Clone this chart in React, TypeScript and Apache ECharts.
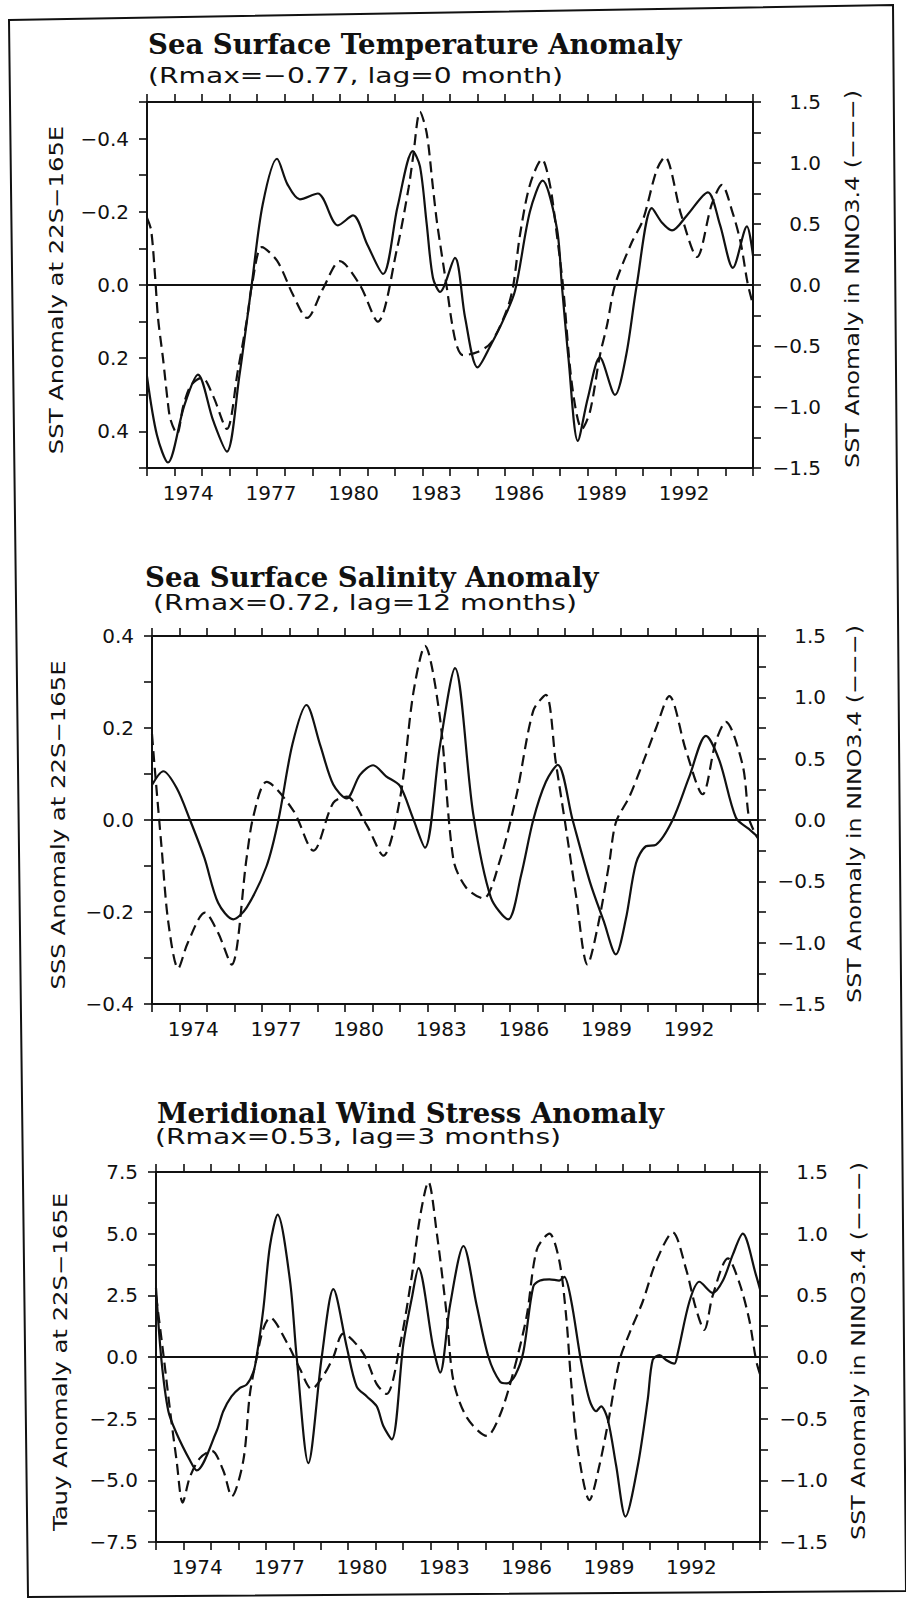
import React, { useEffect, useRef } from "react";
import * as echarts from "echarts";

// ---------- categories / tick labels ----------
const YEAR_CATS = [
  "1973", "1974", "1975", "1976", "1977", "1978", "1979", "1980", "1981", "1982", "1983",
  "1984", "1985", "1986", "1987", "1988", "1989", "1990", "1991", "1992", "1993", "1994",
];
const LABEL_YEARS = ["1974", "1977", "1980", "1983", "1986", "1989", "1992"];

// ---------- text ----------
const TITLES = [
  "Sea Surface Temperature Anomaly",
  "Sea Surface Salinity Anomaly",
  "Meridional Wind Stress Anomaly",
];
const SUBTITLES = [
  "(Rmax=\u22120.77, lag=0 month)",
  "(Rmax=0.72, lag=12 months)",
  "(Rmax=0.53, lag=3 months)",
];
const LEFT_NAMES = [
  "SST Anomaly at 22S\u2212165E",
  "SSS Anomaly at 22S\u2212165E",
  "Tauy Anomaly at 22S\u2212165E",
];
const RIGHT_NAME = "SST Anomaly in NINO3.4 (\u2212\u2212\u2212)";

// ---------- axis ranges ----------
const LEFT_MIN = [-0.5, -0.4, -7.5];
const LEFT_MAX = [0.5, 0.4, 7.5];
const LEFT_STEP = [0.1, 0.1, 1.25];
const LEFT_LABEL_STEP = [0.2, 0.2, 2.5];
const LEFT_INVERSE = [true, false, false];
const RIGHT_MIN = -1.5;
const RIGHT_MAX = 1.5;
const RIGHT_STEP = 0.25;
const RIGHT_LABEL_STEP = 0.5;

// ---------- Panel 1: SST anomaly at 22S-165E (solid) ----------
const sstYears = [1973.0, 1973.36, 1973.76, 1974.35, 1974.85, 1975.4, 1975.9, 1976.35, 1976.8, 1977.2, 1977.72, 1978.1, 1978.55, 1979.2, 1979.93, 1980.48, 1981.0, 1981.57, 1982.1, 1982.65, 1982.91, 1983.15, 1983.38, 1983.64, 1984.18, 1984.55, 1985.0, 1985.5, 1985.92, 1986.36, 1986.9, 1987.36, 1987.88, 1988.06, 1988.3, 1988.64, 1989.0, 1989.44, 1989.99, 1990.4, 1990.78, 1991.33, 1991.7, 1992.06, 1992.6, 1993.36, 1993.8, 1994.27, 1994.78, 1995.0];
const sstValues = [0.25, 0.41, 0.485, 0.33, 0.245, 0.37, 0.455, 0.25, 0.0, -0.22, -0.345, -0.275, -0.234, -0.25, -0.163, -0.19, -0.11, -0.03, -0.215, -0.366, -0.324, -0.17, -0.02, 0.019, -0.074, 0.09, 0.225, 0.161, 0.098, 0.016, -0.2, -0.285, -0.155, 0.0, 0.2, 0.426, 0.31, 0.198, 0.3, 0.19, 0.0, -0.21, -0.17, -0.149, -0.19, -0.253, -0.165, -0.047, -0.16, -0.08];

// ---------- Panel 1: NINO3.4 (dashed, lag 0) ----------
const nino1Years = [1973.0, 1973.15, 1973.3, 1973.4, 1973.58, 1973.75, 1973.85, 1974.09, 1974.32, 1974.6, 1975.0, 1975.4, 1975.9, 1976.3, 1976.63, 1976.81, 1977.17, 1977.72, 1978.3, 1978.81, 1979.39, 1980.0, 1980.73, 1981.38, 1982.07, 1982.5, 1982.66, 1982.91, 1983.15, 1983.38, 1983.53, 1983.89, 1984.07, 1984.25, 1984.47, 1985.0, 1985.5, 1986.07, 1986.3, 1986.54, 1986.9, 1987.34, 1987.63, 1987.88, 1988.1, 1988.43, 1988.79, 1989.08, 1989.44, 1989.7, 1989.99, 1990.6, 1991.0, 1991.5, 1991.8, 1992.4, 1992.97, 1993.5, 1993.87, 1994.25, 1994.55, 1994.8, 1995.0];
const nino1Values = [0.55, 0.45, 0.05, -0.27, -0.6, -0.95, -1.1, -1.22, -0.99, -0.82, -0.76, -0.91, -1.18, -0.7, -0.28, 0.0, 0.31, 0.2, -0.08, -0.27, -0.03, 0.195, 0.0, -0.3, 0.29, 0.8, 1.05, 1.42, 1.25, 0.8, 0.51, -0.03, -0.31, -0.5, -0.575, -0.55, -0.47, -0.2, 0.0, 0.41, 0.82, 1.03, 0.82, 0.41, 0.0, -0.82, -1.18, -1.04, -0.58, -0.33, 0.0, 0.35, 0.53, 0.94, 1.05, 0.57, 0.23, 0.66, 0.82, 0.6, 0.35, 0.02, -0.16];

// ---------- Panel 2: SSS anomaly at 22S-165E (solid) ----------
const sssYears = [1973.0, 1973.41, 1973.9, 1974.38, 1974.9, 1975.4, 1975.95, 1976.44, 1977.16, 1977.59, 1978.1, 1978.61, 1979.1, 1979.58, 1980.07, 1980.55, 1981.03, 1981.5, 1982.0, 1982.45, 1982.91, 1983.45, 1984.0, 1984.66, 1985.3, 1985.93, 1986.4, 1986.84, 1987.3, 1987.73, 1988.27, 1988.9, 1989.4, 1989.84, 1990.2, 1990.57, 1990.93, 1991.29, 1991.9, 1992.5, 1993.11, 1993.6, 1994.2, 1994.68, 1995.0];
const sssValues = [0.076, 0.106, 0.069, 0.0, -0.082, -0.18, -0.216, -0.19, -0.1, 0.0, 0.165, 0.25, 0.164, 0.077, 0.047, 0.098, 0.119, 0.095, 0.074, 0.008, -0.06, 0.16, 0.33, 0.014, -0.168, -0.216, -0.12, 0.0, 0.083, 0.12, 0.0, -0.135, -0.22, -0.292, -0.216, -0.094, -0.057, -0.054, 0.0, 0.093, 0.183, 0.129, 0.005, -0.02, -0.037];

// ---------- Panel 2: NINO3.4 (dashed, lag 12 months) ----------
const nino2Years = [1973.0, 1973.08, 1973.35, 1973.59, 1973.95, 1974.3, 1974.92, 1975.4, 1975.89, 1976.44, 1976.68, 1977.16, 1978.13, 1978.86, 1979.58, 1980.07, 1980.79, 1981.4, 1982.0, 1982.49, 1982.91, 1983.45, 1983.94, 1984.4, 1985.03, 1985.63, 1986.24, 1986.84, 1987.3, 1987.66, 1988.03, 1988.39, 1988.81, 1989.2, 1989.6, 1989.84, 1990.33, 1990.81, 1991.3, 1991.78, 1992.38, 1992.99, 1993.47, 1993.83, 1994.44, 1994.68, 1994.92, 1995.0];
const nino2Values = [0.7, 0.475, -0.23, -0.83, -1.21, -1.0, -0.755, -0.92, -1.18, -0.3, 0.03, 0.31, 0.077, -0.25, 0.14, 0.19, -0.04, -0.29, 0.17, 1.04, 1.42, 0.84, -0.32, -0.55, -0.64, -0.33, 0.21, 0.89, 1.02, 0.47, -0.07, -0.61, -1.18, -0.85, -0.35, -0.02, 0.19, 0.46, 0.75, 1.01, 0.57, 0.21, 0.64, 0.8, 0.45, 0.01, -0.12, -0.15];

// ---------- Panel 3: Tauy anomaly at 22S-165E (solid) ----------
const tauyYears = [1973.0, 1973.2, 1973.45, 1973.75, 1974.24, 1974.48, 1975.21, 1975.45, 1975.75, 1976.06, 1976.3, 1976.55, 1976.67, 1976.91, 1977.15, 1977.43, 1977.88, 1978.12, 1978.55, 1979.04, 1979.46, 1979.95, 1980.31, 1980.68, 1981.04, 1981.28, 1981.59, 1982.01, 1982.32, 1982.56, 1983.1, 1983.35, 1983.71, 1984.2, 1984.68, 1985.11, 1985.53, 1985.78, 1986.08, 1986.38, 1986.74, 1986.99, 1987.33, 1987.69, 1987.87, 1988.12, 1988.48, 1988.79, 1989.03, 1989.21, 1989.46, 1989.76, 1990.1, 1990.55, 1990.91, 1991.09, 1991.34, 1991.58, 1991.88, 1992.0, 1992.43, 1992.79, 1993.28, 1993.65, 1994.01, 1994.37, 1994.86, 1995.0];
const tauyValues = [2.8, -0.15, -2.2, -3.1, -4.2, -4.6, -3.0, -2.2, -1.6, -1.25, -1.12, -0.6, 0.05, 1.95, 4.5, 5.77, 3.1, 0.04, -4.3, 0.03, 2.75, 0.4, -1.2, -1.6, -2.0, -2.8, -3.34, 0.53, 2.4, 3.6, 0.37, -0.63, 2.1, 4.5, 2.1, 0.0, -1.0, -1.07, -0.75, 0.2, 2.85, 3.1, 3.15, 3.1, 3.25, 2.3, -0.16, -1.75, -2.2, -2.0, -2.55, -4.4, -6.47, -4.4, -1.73, -0.12, 0.08, -0.12, -0.27, 0.13, 2.25, 3.05, 2.6, 3.1, 4.15, 5.0, 3.3, 2.75];

// ---------- Panel 3: NINO3.4 (dashed, lag 3 months) ----------
const nino3Years = [1973.0, 1973.27, 1973.51, 1973.75, 1973.97, 1974.24, 1974.6, 1975.03, 1975.45, 1975.76, 1976.18, 1976.42, 1976.67, 1976.91, 1977.15, 1977.76, 1978.25, 1978.67, 1979.1, 1979.46, 1979.82, 1980.55, 1981.04, 1981.4, 1981.89, 1982.32, 1982.62, 1982.92, 1983.23, 1983.59, 1983.83, 1984.32, 1985.05, 1985.53, 1986.02, 1986.5, 1986.87, 1987.33, 1987.69, 1987.94, 1988.12, 1988.36, 1988.79, 1989.15, 1989.51, 1989.88, 1990.24, 1990.73, 1991.21, 1991.82, 1992.31, 1992.67, 1992.97, 1993.28, 1993.83, 1994.25, 1994.61, 1994.86, 1995.0];
const nino3Values = [0.5, 0.02, -0.43, -0.84, -1.18, -0.97, -0.82, -0.76, -0.92, -1.13, -0.84, -0.3, 0.0, 0.23, 0.32, 0.12, -0.1, -0.26, -0.15, 0.0, 0.19, 0.03, -0.22, -0.3, 0.1, 0.66, 1.14, 1.42, 1.0, 0.34, -0.19, -0.49, -0.64, -0.47, -0.12, 0.33, 0.87, 1.0, 0.78, 0.33, -0.2, -0.74, -1.16, -0.88, -0.48, -0.03, 0.19, 0.45, 0.77, 1.01, 0.71, 0.39, 0.22, 0.5, 0.8, 0.6, 0.3, -0.03, -0.14];

const SOLID_YEARS = [sstYears, sssYears, tauyYears];
const SOLID_VALUES = [sstValues, sssValues, tauyValues];
const DASH_YEARS = [nino1Years, nino2Years, nino3Years];
const DASH_VALUES = [nino1Values, nino2Values, nino3Values];

// ---------- layout (pixels) ----------
const GRIDS = [
  { left: 147, top: 102, width: 606, height: 366 },
  { left: 152, top: 636, width: 606, height: 368 },
  { left: 156, top: 1172, width: 604, height: 370 },
];
const TITLE_POS = [[148, 44], [145, 577], [157, 1113]];
const SUB_POS = [[148, 76], [153, 603], [155, 1137]];
const LEFT_NAME_X = [56, 58, 60];
const RIGHT_NAME_X = [852, 854, 858];

const INK = "#111";
const SANS = "DejaVu Sans";
const SERIF = "DejaVu Serif";

const zip = (xs: number[], ys: number[]) => xs.map((x, i) => [x, ys[i]]);
const isMultiple = (v: number, step: number) =>
  Math.abs(v / step - Math.round(v / step)) < 1e-6;
const fmt = (v: number, d: number) => {
  const s = Math.abs(v) < 1e-9 ? (0).toFixed(d) : v.toFixed(d);
  return s.replace("-", "\u2212");
};

function buildOption() {
  const grid: any[] = [];
  const xAxis: any[] = [];
  const yAxis: any[] = [];
  const series: any[] = [];
  const graphic: any[] = [];

  const axisLine = { show: true, onZero: false, lineStyle: { color: INK, width: 2 } };
  const axisTick = { show: true, inside: false, length: 8, lineStyle: { color: INK, width: 1.6 } };

  GRIDS.forEach((g, p) => {
    grid.push({ ...g, containLabel: false, outerBoundsMode: "none" });

    // bottom category axis: yearly ticks, labels every 3 years centred on the year
    xAxis.push({
      type: "category",
      gridIndex: p,
      position: "bottom",
      data: YEAR_CATS,
      boundaryGap: true,
      axisLine,
      axisTick: { ...axisTick, interval: 0, alignWithLabel: false },
      axisLabel: {
        interval: (_i: number, v: string) => LABEL_YEARS.includes(v),
        color: INK,
        fontFamily: SANS,
        fontSize: 20,
        margin: 15,
      },
      splitLine: { show: false },
    });
    // top category axis: ticks only
    xAxis.push({
      type: "category",
      gridIndex: p,
      position: "top",
      data: YEAR_CATS,
      boundaryGap: true,
      axisLine,
      axisTick: { ...axisTick, interval: 0, alignWithLabel: false },
      axisLabel: { show: false },
      splitLine: { show: false },
    });
    // hidden continuous time axis that carries the data
    xAxis.push({
      type: "value",
      gridIndex: p,
      min: 1973,
      max: 1995,
      show: false,
    });

    yAxis.push({
      type: "value",
      gridIndex: p,
      position: "left",
      min: LEFT_MIN[p],
      max: LEFT_MAX[p],
      interval: LEFT_STEP[p],
      inverse: LEFT_INVERSE[p],
      axisLine,
      axisTick,
      splitLine: { show: false },
      axisLabel: {
        color: INK,
        fontFamily: SANS,
        fontSize: 20,
        margin: 18,
        showMinLabel: true,
        showMaxLabel: true,
        formatter: (v: number) =>
          isMultiple(v, LEFT_LABEL_STEP[p]) ? fmt(v, 1) : "",
      },
    });
    yAxis.push({
      type: "value",
      gridIndex: p,
      position: "right",
      min: RIGHT_MIN,
      max: RIGHT_MAX,
      interval: RIGHT_STEP,
      axisLine,
      axisTick,
      splitLine: { show: false },
      axisLabel: {
        color: INK,
        fontFamily: SANS,
        fontSize: 20,
        margin: 68,
        align: "right",
        showMinLabel: true,
        showMaxLabel: true,
        formatter: (v: number) =>
          isMultiple(v, RIGHT_LABEL_STEP) ? fmt(v, 1) : "",
      },
    });

    series.push({
      type: "line",
      xAxisIndex: 3 * p + 2,
      yAxisIndex: 2 * p,
      data: zip(SOLID_YEARS[p], SOLID_VALUES[p]),
      smooth: 0.3,
      symbol: "none",
      showSymbol: false,
      lineStyle: { color: INK, width: 2.2 },
      z: 3,
      markLine: {
        silent: true,
        symbol: ["none", "none"],
        label: { show: false },
        lineStyle: { color: INK, width: 2, type: "solid" },
        data: [{ yAxis: 0 }],
      },
    });
    series.push({
      type: "line",
      xAxisIndex: 3 * p + 2,
      yAxisIndex: 2 * p + 1,
      data: zip(DASH_YEARS[p], DASH_VALUES[p]),
      smooth: 0.3,
      symbol: "none",
      showSymbol: false,
      lineStyle: { color: INK, width: 2.2, type: [11, 6] },
      z: 3,
    });

    const midY = g.top + g.height / 2;
    graphic.push({
      type: "text",
      x: TITLE_POS[p][0],
      y: TITLE_POS[p][1],
      scaleX: 1.02,
      silent: true,
      style: {
        text: TITLES[p],
        fill: INK,
        fontFamily: SERIF,
        fontWeight: "bold",
        fontSize: 27,
        align: "left",
        verticalAlign: "middle",
      },
    });
    graphic.push({
      type: "text",
      x: SUB_POS[p][0],
      y: SUB_POS[p][1],
      scaleX: 1.34,
      silent: true,
      style: {
        text: SUBTITLES[p],
        fill: INK,
        fontFamily: SANS,
        fontSize: 21,
        align: "left",
        verticalAlign: "middle",
      },
    });
    graphic.push({
      type: "text",
      x: LEFT_NAME_X[p],
      y: midY + 5,
      rotation: Math.PI / 2,
      scaleX: 1.28,
      silent: true,
      style: {
        text: LEFT_NAMES[p],
        fill: INK,
        fontFamily: SANS,
        fontSize: 19,
        align: "center",
        verticalAlign: "middle",
      },
    });
    graphic.push({
      type: "text",
      x: RIGHT_NAME_X[p],
      y: midY - 6,
      rotation: Math.PI / 2,
      scaleX: 1.25,
      silent: true,
      style: {
        text: RIGHT_NAME,
        fill: INK,
        fontFamily: SANS,
        fontSize: 19,
        align: "center",
        verticalAlign: "middle",
      },
    });
  });

  graphic.push({
    type: "polygon",
    silent: true,
    shape: { points: [[9, 20], [893, 5], [906, 1591], [28, 1597]] },
    style: { fill: "none", stroke: INK, lineWidth: 2 },
  });

  return {
    animation: false,
    backgroundColor: "#ffffff",
    textStyle: { fontFamily: SANS, color: INK },
    grid,
    xAxis,
    yAxis,
    series,
    graphic,
  };
}

export default function App() {
  const ref = useRef<HTMLDivElement>(null);
  useEffect(() => {
    if (!ref.current) return;
    const chart = echarts.init(ref.current, null, { renderer: "svg" });
    chart.setOption(buildOption() as any);
    return () => chart.dispose();
  }, []);
  return (
    <div
      ref={ref}
      style={{ position: "absolute", left: 0, top: 0, width: 906, height: 1599, background: "#fff" }}
    />
  );
}
